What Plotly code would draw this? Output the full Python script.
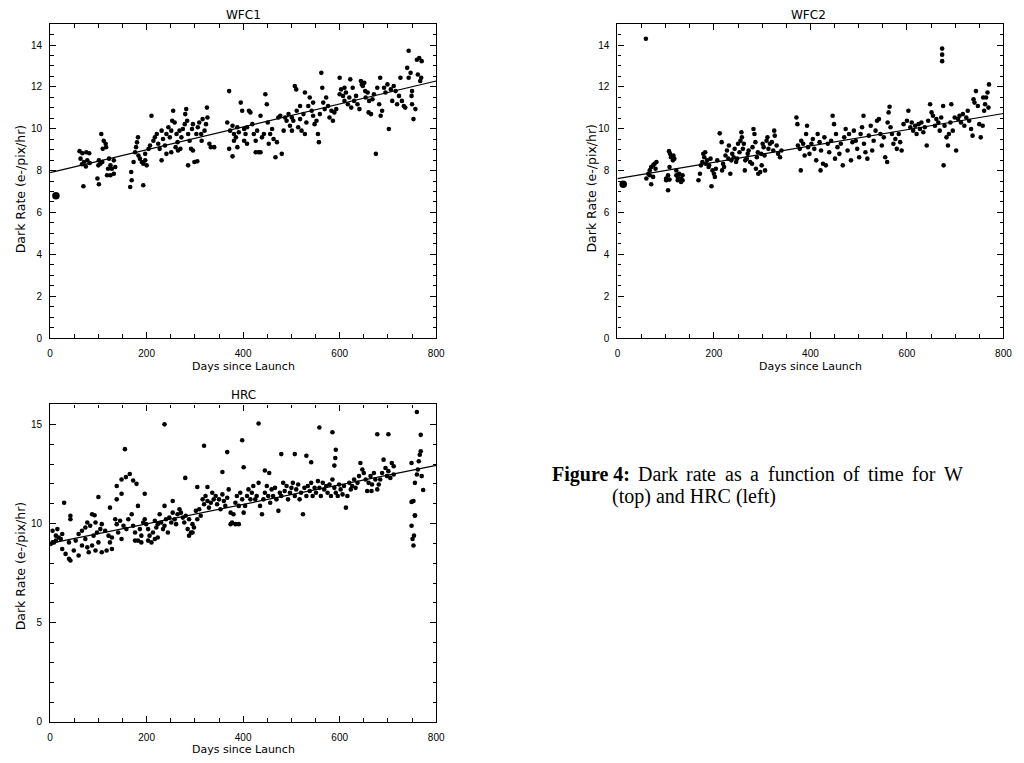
import plotly.graph_objects as go

# ---------------- data (days since launch, dark rate e-/pix/hr) ----------------
wfc1_points = [
    (61, 8.93), (67, 8.83), (75, 8.88), (81, 8.83), (63, 8.57), (70, 8.41), (77, 8.49), (66, 8.30), (74, 8.20), (82, 8.36), (69, 7.25),
    (106, 9.75), (111, 9.43), (115, 9.28), (109, 9.04), (116, 9.12), (101, 8.49), (104, 8.33), (100, 8.25), (108, 8.41), (122, 8.57),
    (125, 8.25), (132, 8.49), (120, 8.09), (128, 8.09), (118, 7.78), (125, 7.78), (132, 7.85), (98, 7.62), (101, 7.35), (135, 8.17),
    (166, 7.22), (169, 7.54), (168, 7.93), (173, 8.41), (176, 8.88), (178, 9.12), (182, 9.59), (180, 9.35), (186, 8.57), (190, 8.41),
    (193, 8.33), (197, 8.49), (200, 8.25), (193, 7.30), (197, 8.80), (204, 9.04), (183, 8.72),
    (210, 10.62), (207, 9.20), (214, 9.43), (217, 9.59), (221, 9.75), (224, 9.28), (227, 9.04), (231, 9.91), (234, 9.51), (238, 9.20),
    (241, 9.75), (245, 10.07), (248, 9.59), (251, 9.91), (253, 10.38), (255, 10.86), (258, 10.30), (262, 9.75), (264, 9.36), (265, 8.96),
    (268, 9.91), (272, 9.59), (275, 9.99), (279, 10.22), (280, 10.70), (282, 10.94), (284, 10.38), (286, 9.75), (289, 9.43), (292, 9.04),
    (294, 9.99), (296, 10.22), (299, 8.41), (303, 9.75), (305, 8.45), (306, 10.07), (309, 10.30), (313, 9.75), (314, 9.43), (316, 10.46),
    (320, 9.91), (323, 10.22), (325, 11.01), (326, 10.54), (330, 9.28), (333, 9.12), (340, 9.12), (231, 8.49), (241, 8.80), (251, 8.88),
    (260, 9.12), (270, 9.04), (286, 8.25), (296, 8.96),
    (371, 11.80), (367, 10.30), (373, 9.91), (378, 10.14), (381, 9.75), (385, 9.59), (388, 10.07), (391, 9.83), (395, 11.25), (398, 10.86),
    (402, 9.99), (405, 9.75), (408, 10.07), (412, 10.86), (415, 10.78), (419, 10.22), (422, 9.75), (426, 9.43), (429, 9.91), (432, 8.88),
    (436, 10.62), (439, 9.59), (443, 9.75), (446, 11.65), (449, 11.17), (451, 10.30), (453, 9.28), (456, 9.75), (460, 9.99), (463, 9.51),
    (467, 8.64), (470, 9.36), (473, 10.54), (477, 10.62), (480, 8.80), (484, 9.91), (487, 10.54), (490, 10.38), (378, 8.68), (381, 9.43),
    (408, 9.28), (426, 8.88), (436, 8.88), (388, 9.12), (402, 9.43), (371, 9.04),
    (494, 10.70), (497, 10.14), (501, 9.91), (504, 10.38), (507, 12.04), (510, 11.88), (511, 10.86), (514, 10.07), (518, 10.46), (521, 9.91),
    (525, 10.70), (528, 9.75), (531, 10.30), (535, 11.09), (538, 11.49), (542, 10.86), (545, 10.62), (548, 10.22), (552, 10.38), (555, 9.75),
    (557, 9.36), (559, 10.70), (562, 12.67), (564, 11.96), (566, 11.25), (569, 10.94), (572, 11.49), (576, 11.09), (579, 10.54), (583, 10.86),
    (586, 10.38), (589, 10.78), (593, 10.94), (528, 11.73), (545, 11.25), (518, 11.09), (501, 10.54),
    (600, 12.44), (603, 11.88), (607, 11.57), (610, 11.33), (613, 11.73), (617, 11.17), (620, 11.49), (624, 11.01), (627, 11.96), (630, 11.33),
    (634, 11.57), (637, 11.17), (641, 10.94), (644, 12.28), (646, 12.12), (648, 12.04), (651, 12.20), (654, 11.49), (658, 11.73), (660, 10.78),
    (661, 11.33), (665, 10.70), (668, 11.41), (671, 11.65), (675, 8.80), (678, 11.96), (682, 11.17), (685, 10.62), (688, 10.86), (600, 11.65),
    (610, 11.96), (622, 12.36), (653, 11.80), (684, 12.44),
    (692, 11.96), (695, 11.73), (699, 12.12), (702, 9.99), (706, 11.88), (709, 11.33), (712, 12.04), (716, 11.80), (719, 11.17), (723, 11.57),
    (726, 12.44), (729, 11.33), (733, 11.09), (736, 11.01), (740, 12.91), (743, 12.44), (747, 12.67), (749, 11.57), (750, 11.80), (753, 10.46),
    (757, 10.94), (760, 13.30), (762, 12.59), (765, 13.38), (767, 12.28), (769, 12.44), (770, 13.23), (743, 13.73), (750, 11.17),
]
wfc1_first = [(12, 6.80)]
wfc1_fit_days = [0, 800]
wfc1_fit_rate = [7.90, 12.28]

wfc2_points = [
    (59, 14.30), (673, 13.83), (673, 13.54), (673, 13.23), (676, 8.25),
    (60, 7.62), (64, 7.85), (67, 8.01), (70, 8.17), (74, 8.25), (77, 8.33), (81, 8.41), (70, 7.35), (74, 7.70), (67, 7.78), (79, 8.09),
    (105, 7.06), (101, 7.62), (105, 7.78), (108, 8.17), (107, 8.93), (109, 8.80), (111, 8.64), (115, 8.49), (116, 8.72), (118, 8.57),
    (101, 7.54), (108, 7.57), (122, 7.78), (125, 7.70), (128, 7.85), (132, 7.62), (135, 7.78), (125, 7.54), (132, 7.46), (122, 8.01), (135, 7.54),
    (168, 7.54), (171, 7.85), (173, 8.25), (176, 8.41), (178, 8.80), (180, 8.64), (183, 8.33), (186, 8.49), (190, 8.25), (193, 8.57),
    (197, 8.01), (195, 7.25), (200, 7.85), (204, 8.09), (207, 8.49), (202, 7.70), (182, 8.88), (189, 8.17),
    (212, 9.78), (216, 9.36), (217, 8.01), (219, 8.33), (221, 8.17), (224, 8.72), (227, 8.96), (230, 8.57), (231, 9.20), (234, 7.85),
    (236, 8.49), (238, 8.80), (241, 8.64), (243, 9.04), (246, 8.41), (248, 8.57), (250, 9.28), (253, 8.88), (255, 9.43), (257, 9.83),
    (258, 9.59), (260, 9.04), (262, 9.28), (264, 8.01), (265, 8.49), (268, 8.57), (270, 8.80), (272, 8.96), (275, 8.41), (279, 8.33),
    (280, 9.12), (282, 9.99), (284, 9.75), (286, 9.36), (287, 8.09), (289, 8.64), (291, 8.88), (292, 7.85), (296, 7.93), (298, 8.80),
    (299, 8.25), (301, 9.28), (303, 9.12), (305, 8.72), (306, 8.01), (309, 9.43), (311, 9.59), (313, 9.04), (316, 9.28), (320, 9.36),
    (323, 8.96), (325, 9.91), (326, 9.67), (330, 9.20), (333, 8.80), (337, 8.64), (340, 8.96),
    (371, 10.54), (373, 10.22), (374, 9.20), (378, 9.04), (380, 8.01), (381, 9.43), (385, 9.28), (388, 8.72), (391, 9.75), (393, 10.14),
    (395, 9.12), (398, 8.80), (402, 9.28), (405, 9.51), (408, 9.04), (412, 8.49), (415, 9.75), (419, 9.36), (421, 8.01), (422, 8.96),
    (426, 8.33), (429, 9.59), (432, 8.25), (436, 9.28), (439, 8.88), (443, 9.43), (446, 10.62), (449, 10.22), (451, 8.57), (453, 9.75),
    (456, 9.12), (460, 8.80), (463, 9.28), (467, 8.25), (470, 9.59), (473, 9.99), (477, 8.96), (480, 9.75), (484, 8.49), (487, 9.36), (490, 9.91),
    (494, 9.43), (497, 9.04), (501, 8.64), (504, 9.75), (507, 10.07), (510, 10.62), (511, 9.28), (514, 8.88), (518, 8.57), (521, 9.67),
    (525, 10.14), (528, 8.96), (531, 9.43), (535, 9.91), (538, 10.38), (542, 10.46), (545, 9.75), (548, 9.20), (552, 9.59), (555, 8.64),
    (559, 8.41), (560, 10.30), (562, 10.78), (564, 11.05), (566, 10.07), (569, 9.75), (572, 9.28), (576, 9.51), (579, 9.04), (583, 9.75),
    (586, 9.36), (589, 8.96), (593, 10.22),
    (600, 10.38), (603, 10.86), (607, 10.07), (610, 10.30), (613, 9.91), (617, 10.14), (620, 9.75), (624, 10.22), (627, 9.99), (630, 10.30),
    (634, 9.83), (637, 10.07), (641, 9.20), (644, 10.38), (648, 11.17), (651, 10.78), (654, 10.62), (658, 10.14), (661, 10.46), (665, 10.30),
    (668, 9.91), (671, 10.54), (675, 11.09), (678, 10.14), (682, 9.59), (685, 9.20), (687, 9.75), (690, 10.30), (692, 11.17), (695, 9.91),
    (699, 10.54), (702, 8.96),
    (706, 10.46), (709, 10.62), (712, 10.30), (716, 10.70), (719, 10.14), (723, 10.54), (726, 10.86), (729, 10.38), (733, 9.99), (736, 9.67),
    (738, 11.41), (740, 11.25), (743, 11.80), (747, 11.09), (750, 10.22), (753, 9.59), (757, 10.14), (760, 10.86), (762, 11.17), (764, 11.49),
    (767, 11.73), (769, 11.01), (770, 12.12), (758, 11.49),
]
wfc2_first = [(12, 7.35)]
wfc2_fit_days = [0, 800]
wfc2_fit_rate = [7.62, 10.73]

hrc_points = [
    (155, 13.75), (237, 15.00), (319, 13.92), (367, 13.60), (398, 14.20), (432, 15.04), (401, 12.84), (558, 14.84), (585, 14.60), (678, 14.50),
    (701, 14.50), (760, 15.62), (768, 14.47), (592, 13.72), (591, 13.30), (589, 12.92), (479, 13.50), (507, 13.50), (531, 13.42), (541, 13.09),
    (445, 12.67), (454, 12.55), (357, 12.60), (280, 12.30),
    (138, 11.89), (148, 12.22), (157, 12.34), (165, 12.50), (172, 12.17), (179, 12.00), (148, 11.50), (138, 11.22), (196, 11.50), (182, 10.89),
    (100, 11.34), (124, 10.80), (87, 10.47), (29, 11.05), (237, 10.89), (254, 11.14), (305, 11.84), (326, 11.84),
    (5, 9.05), (12, 9.14), (18, 9.30), (25, 9.47), (15, 9.72), (42, 10.22), (42, 10.39), (59, 9.47), (66, 9.64), (73, 9.80), (77, 10.05),
    (83, 9.89), (92, 10.42), (94, 10.05), (97, 9.55), (104, 9.72), (107, 9.97), (90, 9.39), (73, 9.22), (53, 9.14), (39, 9.05), (66, 8.89),
    (77, 8.80), (87, 8.89), (100, 9.05), (107, 8.55), (117, 8.64), (128, 8.72), (25, 8.72), (32, 8.47), (39, 8.22), (49, 8.64), (59, 8.39),
    (80, 8.55), (94, 8.64), (124, 9.05), (121, 9.39), (114, 9.64), (42, 8.14), (1, 8.97), (8, 9.05), (22, 9.22), (12, 9.39), (5, 9.64),
    (135, 10.22), (138, 9.97), (145, 10.14), (152, 9.89), (158, 9.72), (162, 10.22), (169, 10.47), (172, 9.89), (176, 9.55), (182, 9.14),
    (186, 9.72), (189, 9.39), (193, 10.05), (196, 10.22), (199, 9.97), (203, 9.72), (206, 9.39), (210, 9.05), (213, 9.55), (217, 10.14),
    (220, 9.80), (223, 9.97), (227, 10.47), (230, 10.05), (234, 9.72), (237, 9.89), (240, 10.22), (244, 9.55), (247, 10.30), (251, 10.05),
    (254, 10.55), (258, 10.22), (261, 9.97), (264, 10.47), (268, 10.72), (271, 10.55), (275, 10.30), (278, 10.05), (281, 10.39), (285, 9.72),
    (288, 10.22), (292, 9.55), (295, 9.97), (298, 9.80), (302, 10.64), (305, 10.22), (309, 10.72), (312, 10.39), (316, 11.22), (319, 10.97),
    (322, 11.39), (326, 11.14), (329, 10.80), (333, 11.05), (336, 11.55), (339, 11.22), (343, 11.39), (346, 10.97), (350, 11.22), (353, 10.72),
    (357, 11.47), (360, 11.14), (363, 10.89), (367, 11.30), (370, 11.72), (374, 10.55), (377, 10.05), (380, 10.47), (384, 11.05), (387, 11.39),
    (391, 10.89), (394, 11.55), (398, 11.22), (401, 10.55), (384, 9.97), (391, 9.97), (374, 9.97),
    (176, 9.14), (189, 9.05), (203, 9.14), (217, 9.22), (223, 9.30), (141, 9.55), (128, 9.30), (148, 9.22), (295, 9.55), (288, 9.39),
    (404, 10.89), (408, 11.39), (411, 11.72), (415, 11.22), (418, 11.55), (421, 11.89), (425, 11.22), (428, 11.39), (432, 12.05), (435, 10.89),
    (439, 10.47), (442, 11.22), (445, 11.55), (449, 11.89), (452, 11.39), (456, 11.05), (459, 11.72), (462, 11.39), (466, 11.80), (469, 11.22),
    (473, 10.64), (476, 11.55), (479, 11.39), (483, 12.05), (486, 11.64), (490, 11.89), (493, 11.22), (497, 11.55), (500, 11.80), (503, 12.05),
    (507, 11.39), (510, 11.72), (514, 11.97), (517, 11.22), (520, 11.55), (524, 10.47), (527, 11.80), (531, 11.39), (534, 11.89), (538, 11.64),
    (541, 12.05), (544, 11.39), (548, 11.80), (551, 11.55), (555, 12.14), (558, 11.80), (561, 11.39), (565, 12.05), (568, 11.72), (572, 11.89),
    (575, 11.55), (579, 11.97), (582, 11.39), (585, 12.22), (589, 11.80), (592, 11.55), (596, 11.39), (599, 11.97), (602, 11.72),
    (606, 11.47), (609, 11.89), (613, 10.80), (616, 11.39), (620, 12.05), (623, 11.72), (626, 11.89), (630, 12.22), (633, 11.80), (637, 12.05),
    (640, 12.39), (643, 13.05), (647, 12.72), (650, 12.55), (654, 12.22), (657, 11.64), (660, 12.05), (664, 12.39), (667, 11.97), (671, 12.55),
    (674, 12.22), (688, 12.55), (691, 13.22), (695, 12.80), (698, 12.39), (701, 12.64), (705, 12.30), (708, 13.05), (712, 12.89), (712, 12.47),
    (684, 12.22), (681, 11.97), (678, 11.72), (666, 11.64),
    (749, 9.89), (751, 9.22), (753, 8.89), (754, 9.39), (756, 10.39), (749, 11.09), (753, 11.14), (756, 10.42), (756, 12.05), (760, 12.47),
    (762, 12.72), (764, 13.14), (766, 13.47), (768, 13.64), (770, 12.39), (773, 11.69), (749, 13.05),
]
hrc_fit_days = [0, 800]
hrc_fit_rate = [9.00, 12.93]

x_ticks = [0, 200, 400, 600, 800]
wfc_y_ticks = [0, 2, 4, 6, 8, 10, 12, 14]
hrc_y_ticks = [0, 5, 10, 15]

panel_titles = ["WFC1", "WFC2", "HRC"]
x_title = "Days since Launch"
y_title = "Dark Rate (e-/pix/hr)"
caption_words_line1 = ["<b>Figure 4:</b>", "Dark", "rate", "as", "a", "function", "of", "time", "for", "W"]
caption_line2 = "(top) and HRC (left)"

# ---------------- figure ----------------
W, H = 1024, 763
fig = go.Figure()

def px_x(p):
    return p / W

def px_y(p):
    return 1 - p / H

def add_panel(points, first, fit_d, fit_r, xa, ya):
    d = [p[0] for p in points]
    r = [p[1] for p in points]
    fig.add_trace(go.Scatter(x=d, y=r, mode="markers", xaxis=xa, yaxis=ya,
                             marker=dict(size=4.6, color="black", line=dict(width=0)),
                             showlegend=False, hoverinfo="skip"))
    if first:
        fig.add_trace(go.Scatter(x=[p[0] for p in first], y=[p[1] for p in first], mode="markers",
                                 xaxis=xa, yaxis=ya,
                                 marker=dict(size=7.5, color="black", line=dict(width=0)),
                                 showlegend=False, hoverinfo="skip"))
    fig.add_trace(go.Scatter(x=fit_d, y=fit_r, mode="lines", xaxis=xa, yaxis=ya,
                             line=dict(color="black", width=1.2),
                             showlegend=False, hoverinfo="skip"))

add_panel(wfc1_points, wfc1_first, wfc1_fit_days, wfc1_fit_rate, "x", "y")
add_panel(wfc2_points, wfc2_first, wfc2_fit_days, wfc2_fit_rate, "x2", "y2")
add_panel(hrc_points, None, hrc_fit_days, hrc_fit_rate, "x3", "y3")

tickfont = dict(family="Liberation Sans, Arial, sans-serif", size=10, color="black")

def xaxis(dom, anchor):
    return dict(domain=dom, anchor=anchor, range=[0, 800], tickvals=x_ticks,
                ticks="inside", ticklen=6, tickwidth=1, tickcolor="black",
                showline=True, linecolor="black", linewidth=1.2, mirror="allticks",
                showgrid=False, zeroline=False, tickfont=tickfont, ticklabelstandoff=6,
                minor=dict(dtick=50, tick0=0, ticks="inside", ticklen=3.5, tickwidth=1,
                           tickcolor="black", showgrid=False))

def yaxis(dom, anchor, rng, tv, mdt):
    return dict(domain=dom, anchor=anchor, range=rng, tickvals=tv,
                ticks="inside", ticklen=6, tickwidth=1, tickcolor="black",
                showline=True, linecolor="black", linewidth=1.2, mirror="allticks",
                showgrid=False, zeroline=False, tickfont=tickfont, ticklabelstandoff=5,
                minor=dict(dtick=mdt, tick0=0, ticks="inside", ticklen=3.5, tickwidth=1,
                           tickcolor="black", showgrid=False))

left_dom = [px_x(47.7), px_x(438.3)]
right_dom = [px_x(621.7), px_x(1012.3)]
top_dom = [px_y(340.7), px_y(24.3)]
bot_dom = [px_y(727.7), px_y(407.7)]

fig.update_layout(
    width=W, height=H, margin=dict(l=0, r=0, t=0, b=0),
    paper_bgcolor="white", plot_bgcolor="white",
    xaxis=xaxis(left_dom, "y"), yaxis=yaxis(top_dom, "x", [0, 15], wfc_y_ticks, 0.5),
    xaxis2=xaxis(right_dom, "y2"), yaxis2=yaxis(top_dom, "x2", [0, 15], wfc_y_ticks, 0.5),
    xaxis3=xaxis(left_dom, "y3"), yaxis3=yaxis(bot_dom, "x3", [0, 16], hrc_y_ticks, 1),
)

lab = dict(family="DejaVu Sans, sans-serif", color="black")
ann = []
ann.append(dict(text=panel_titles[0], x=px_x(243), y=px_y(15), font=dict(size=12, **lab)))
ann.append(dict(text=panel_titles[1], x=px_x(815), y=px_y(15), font=dict(size=12, **lab)))
ann.append(dict(text=panel_titles[2], x=px_x(243), y=px_y(397.7), font=dict(size=12, **lab)))
ann.append(dict(text=x_title, x=px_x(243), y=px_y(369), font=dict(size=11, **lab)))
ann.append(dict(text=x_title, x=px_x(817), y=px_y(369), font=dict(size=11, **lab)))
ann.append(dict(text=x_title, x=px_x(243), y=px_y(755), font=dict(size=11, **lab)))
ann.append(dict(text=y_title, x=px_x(18), y=px_y(190), textangle=-90, font=dict(size=12.5, **lab)))
ann.append(dict(text=y_title, x=px_x(595), y=px_y(190), textangle=-90, font=dict(size=12.5, **lab)))
ann.append(dict(text=y_title, x=px_x(18), y=px_y(570), textangle=-90, font=dict(size=12.5, **lab)))
for a in ann:
    a.update(xref="paper", yref="paper", xanchor="center", yanchor="middle", showarrow=False)

# caption: first line is justified across the (cropped) page width
cap = dict(family="Liberation Serif, Times New Roman, serif", size=20, color="black")
word_w = [78.3, 40.0, 30.0, 16.7, 8.9, 66.7, 16.7, 35.6, 23.3, 18.9]
gap = 9.0
xpos = 553.0
for word, ww in zip(caption_words_line1, word_w):
    ann.append(dict(text=word, x=px_x(xpos), y=px_y(478), xref="paper", yref="paper",
                    xanchor="left", yanchor="middle", showarrow=False, font=cap))
    xpos += ww + gap
ann.append(dict(text=caption_line2, x=px_x(614), y=px_y(500), xref="paper", yref="paper",
                xanchor="left", yanchor="middle", showarrow=False, font=cap))
fig.update_layout(annotations=ann)

fig.write_html("out.html")
